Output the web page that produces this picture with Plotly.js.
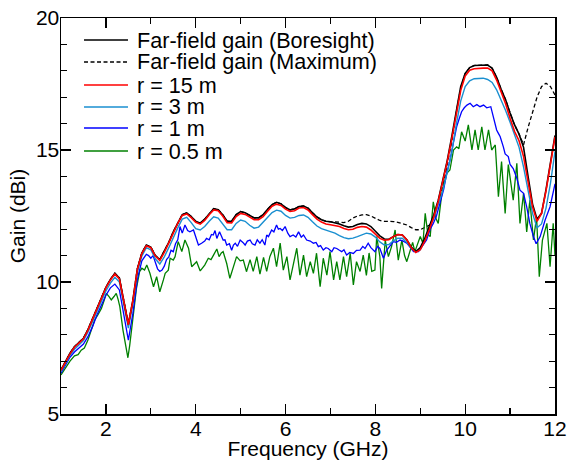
<!DOCTYPE html>
<html>
<head>
<meta charset="utf-8">
<script src="https://cdn.plot.ly/plotly-3.0.1.min.js"></script>
<style>html,body{margin:0;padding:0;background:#fff;}#chart{width:568px;height:460px;}</style>
</head>
<body>
<div id="chart"></div>
<script>
// Frequency grid (GHz) for the smooth curves
const freq = [1.0,1.1,1.2,1.3,1.4,1.5,1.6,1.7,1.8,1.9,
  2.0,2.1,2.2,2.3,2.4,2.5,2.6,2.7,2.8,2.9,
  3.0,3.1,3.2,3.3,3.4,3.5,3.6,3.7,3.8,3.9,
  4.0,4.1,4.2,4.3,4.4,4.5,4.6,4.7,4.8,4.9,
  5.0,5.1,5.2,5.3,5.4,5.5,5.6,5.7,5.8,5.9,
  6.0,6.1,6.2,6.3,6.4,6.5,6.6,6.7,6.8,6.9,
  7.0,7.1,7.2,7.3,7.4,7.5,7.6,7.7,7.8,7.9,
  8.0,8.1,8.2,8.3,8.4,8.5,8.6,8.7,8.8,8.9,
  9.0,9.1,9.2,9.3,9.4,9.5,9.6,9.7,9.8,9.9,
  10.0,10.1,10.2,10.3,10.4,10.5,10.6,10.7,10.8,10.9,
  11.0,11.1,11.2,11.3,11.4,11.5,11.6,11.7,11.8,11.9,
  12.0];

const farBoresight = [6.67,7.0,7.3,7.55,7.72,7.87,8.2,8.6,9.05,9.45,
  9.8,10.1,10.33,10.15,9.25,8.4,9.3,10.5,11.1,11.4,
  11.32,11.0,10.85,11.15,11.5,11.9,12.25,12.55,12.62,12.48,
  12.3,12.23,12.38,12.6,12.78,12.74,12.55,12.3,12.3,12.55,
  12.67,12.62,12.52,12.43,12.43,12.55,12.75,12.93,13.02,12.96,
  12.82,12.73,12.77,12.86,12.88,12.8,12.62,12.46,12.36,12.3,
  12.28,12.25,12.2,12.13,12.08,12.1,12.18,12.22,12.2,12.1,
  11.92,11.75,11.63,11.62,11.72,11.8,11.78,11.6,11.32,11.15,
  11.3,11.65,12.1,12.55,13.1,13.8,14.6,15.5,16.5,17.4,
  17.9,18.12,18.2,18.2,18.22,18.22,18.1,17.75,17.3,16.9,
  16.4,15.95,15.6,15.1,14.0,12.95,12.38,12.6,13.5,14.5,
  15.55];

const farMaximum = [6.67,7.0,7.3,7.55,7.72,7.87,8.2,8.6,9.05,9.45,
  9.8,10.1,10.33,10.15,9.25,8.4,9.3,10.5,11.1,11.4,
  11.32,11.0,10.85,11.15,11.5,11.9,12.25,12.55,12.62,12.48,
  12.3,12.23,12.38,12.6,12.78,12.74,12.55,12.3,12.3,12.55,
  12.67,12.62,12.52,12.43,12.43,12.55,12.75,12.93,13.02,12.96,
  12.82,12.73,12.77,12.86,12.88,12.8,12.62,12.46,12.36,12.3,
  12.28,12.28,12.27,12.25,12.3,12.42,12.5,12.54,12.55,12.5,
  12.4,12.33,12.3,12.3,12.29,12.26,12.22,12.16,12.06,11.98,
  11.98,12.05,12.15,12.45,12.95,13.6,14.4,15.3,16.4,17.35,
  17.9,18.12,18.2,18.2,18.22,18.22,18.1,17.75,17.3,16.9,
  16.4,15.95,15.6,15.2,15.85,16.45,17.0,17.4,17.53,17.4,
  17.08];

const r15 = [6.65,6.98,7.28,7.53,7.7,7.85,8.18,8.58,9.03,9.43,
  9.78,10.08,10.3,10.12,9.22,8.38,9.28,10.48,11.08,11.37,
  11.3,10.98,10.82,11.12,11.48,11.87,12.22,12.52,12.58,12.44,
  12.26,12.19,12.33,12.55,12.73,12.7,12.5,12.25,12.24,12.48,
  12.6,12.56,12.45,12.36,12.36,12.48,12.68,12.87,12.95,12.9,
  12.76,12.67,12.7,12.8,12.82,12.73,12.55,12.38,12.27,12.2,
  12.17,12.14,12.1,12.03,11.98,12.0,12.07,12.1,12.08,11.97,
  11.8,11.65,11.58,11.6,11.72,11.8,11.78,11.6,11.3,11.12,
  11.22,11.55,11.98,12.45,13.05,13.75,14.55,15.4,16.4,17.25,
  17.8,18.02,18.08,18.1,18.1,18.1,18.0,17.65,17.2,16.75,
  16.2,15.7,15.35,14.75,13.8,12.85,12.3,12.6,13.45,14.4,
  15.5];

const r3 = [6.6,6.92,7.22,7.45,7.62,7.78,8.1,8.5,8.93,9.32,
  9.66,9.96,10.18,10.0,9.1,8.25,9.15,10.35,10.98,11.3,
  11.22,10.88,10.68,10.95,11.3,11.7,12.05,12.38,12.45,12.25,
  12.02,11.97,12.1,12.3,12.47,12.42,12.22,11.98,11.98,12.22,
  12.35,12.3,12.15,12.04,12.08,12.25,12.45,12.63,12.72,12.68,
  12.52,12.42,12.45,12.52,12.54,12.45,12.28,12.12,12.02,11.97,
  11.92,11.85,11.76,11.68,11.64,11.66,11.72,11.8,11.85,11.82,
  11.7,11.52,11.4,11.42,11.56,11.66,11.66,11.5,11.28,11.15,
  11.22,11.6,12.05,12.4,12.95,13.45,14.15,14.9,15.95,16.85,
  17.4,17.62,17.7,17.72,17.72,17.67,17.56,17.28,16.9,16.5,
  16.05,15.55,15.1,14.35,13.45,12.6,12.05,12.2,12.8,13.75,
  14.95];

// r = 1 m (read point by point)
const r1Freq = [1.0,1.1,1.2,1.3,1.4,1.5,1.6,1.7,1.8,1.9,2.0,2.1,2.2,2.3,2.4,2.5,2.6,2.7,2.8,2.9,
  2.95,3.0,3.05,3.1,3.15,3.2,3.25,3.3,3.35,3.4,3.45,3.5,3.55,3.6,3.65,3.7,3.76,3.82,3.87,3.95,
  4.0,4.06,4.13,4.2,4.24,4.3,4.35,4.39,4.43,4.47,4.53,4.57,4.61,4.65,4.69,4.75,4.8,4.84,4.88,4.93,
  4.99,5.05,5.1,5.15,5.21,5.26,5.32,5.37,5.43,5.48,5.54,5.58,5.62,5.69,5.74,5.8,5.84,5.88,5.93,5.99,
  6.05,6.1,6.17,6.23,6.29,6.35,6.4,6.47,6.55,6.62,6.68,6.73,6.78,6.84,6.9,6.95,7.03,7.08,7.14,7.2,
  7.25,7.3,7.36,7.43,7.51,7.58,7.66,7.72,7.77,7.84,7.9,7.99,8.05,8.1,8.18,8.25,8.32,8.4,8.47,8.55,
  8.62,8.7,8.78,8.85,8.96,9.05,9.14,9.22,9.29,9.36,9.44,9.52,9.59,9.66,9.74,9.81,9.87,9.92,9.98,10.04,
  10.11,10.18,10.26,10.33,10.41,10.48,10.57,10.63,10.7,10.74,10.78,10.85,10.89,10.96,11.0,11.07,11.15,11.22,11.3,11.37,
  11.44,11.52,11.58,11.67,11.78,11.89,12.0];
const r1 = [6.55,6.88,7.15,7.35,7.5,7.65,7.93,8.3,8.75,9.15,9.5,9.78,9.92,9.7,8.8,7.8,8.8,10.1,10.8,11.05,
  11.0,10.9,11.0,10.7,10.5,10.4,10.45,10.6,10.85,10.95,11.2,11.15,11.45,11.6,12.1,11.85,12.16,11.95,11.9,11.97,
  11.7,11.4,11.47,11.55,11.65,11.6,11.8,11.78,11.95,11.65,11.9,11.75,11.59,11.6,11.4,11.45,11.2,11.4,11.47,11.35,
  11.59,11.5,11.4,11.55,11.59,11.45,11.4,11.6,11.47,11.6,11.4,11.78,11.72,11.97,11.9,12.16,12.0,12.03,11.95,12.1,
  11.85,11.72,11.78,11.7,11.9,11.7,11.78,11.59,11.55,11.47,11.5,11.34,11.38,11.21,11.3,11.27,11.15,11.3,11.27,11.2,
  11.15,11.22,11.02,11.12,11.08,11.2,11.21,11.35,11.27,11.47,11.3,11.15,11.35,11.27,10.9,11.2,11.35,11.53,11.5,11.59,
  11.55,11.47,11.3,11.15,11.15,11.35,11.59,12.0,12.22,12.5,13.05,13.5,14.12,14.6,15.3,15.88,16.2,16.45,16.6,16.7,
  16.77,16.64,16.72,16.64,16.7,16.6,16.64,16.26,15.76,15.63,15.5,15.12,14.85,14.75,14.45,14.3,13.93,13.48,13.36,12.85,
  12.22,11.72,11.45,11.72,12.35,12.85,13.72];

// r = 0.5 m (read point by point)
const r05Freq = [1.0,1.1,1.2,1.3,1.38,1.45,1.52,1.6,1.68,1.75,1.82,1.9,1.96,2.01,2.07,2.12,2.18,2.23,2.27,2.31,
  2.38,2.44,2.49,2.53,2.57,2.62,2.68,2.75,2.8,2.86,2.91,2.98,3.06,3.13,3.2,3.28,3.32,3.39,3.43,3.5,
  3.54,3.61,3.69,3.76,3.84,3.91,3.95,4.02,4.1,4.2,4.28,4.34,4.39,4.47,4.52,4.57,4.61,4.69,4.76,4.84,
  4.91,4.99,5.06,5.13,5.21,5.28,5.36,5.43,5.51,5.58,5.65,5.73,5.8,5.88,5.95,6.03,6.1,6.17,6.25,6.32,
  6.4,6.47,6.55,6.62,6.69,6.77,6.84,6.92,6.99,7.07,7.14,7.21,7.29,7.36,7.44,7.51,7.58,7.66,7.73,7.8,
  7.86,7.92,7.99,8.03,8.1,8.14,8.22,8.29,8.36,8.44,8.51,8.59,8.65,8.7,8.77,8.83,8.88,8.94,9.0,9.06,
  9.11,9.17,9.22,9.29,9.35,9.4,9.48,9.54,9.59,9.66,9.74,9.81,9.86,9.92,10.0,10.07,10.15,10.22,10.29,10.37,
  10.44,10.52,10.59,10.67,10.74,10.81,10.89,10.96,11.02,11.07,11.15,11.22,11.3,11.37,11.44,11.52,11.59,11.65,11.72,11.82,
  11.89,11.96,12.0];
const r05 = [6.48,6.75,7.0,7.2,7.25,7.42,7.5,7.8,8.2,8.56,8.75,9.0,9.3,9.57,9.45,9.32,9.45,9.57,9.35,9.07,
  8.18,7.6,7.13,7.6,8.18,9.0,9.76,10.39,10.52,10.45,10.64,10.33,9.82,10.2,9.63,10.08,10.33,10.45,10.9,10.83,
  10.96,11.53,11.15,11.59,11.28,10.58,10.64,10.77,10.42,10.64,10.9,10.85,11.0,11.25,10.96,11.1,11.15,10.7,10.14,10.58,
  10.96,10.8,10.83,10.39,10.85,10.4,10.96,10.3,10.93,10.4,10.96,11.28,10.58,11.47,10.45,10.96,10.08,10.64,11.28,10.26,
  11.02,10.2,10.77,10.33,11.09,9.82,10.9,10.26,11.15,10.08,10.77,10.08,10.96,10.2,11.09,9.89,10.77,10.4,11.02,10.25,
  11.1,10.4,10.45,11.72,10.96,9.76,11.59,10.96,11.34,11.97,10.83,11.59,11.0,10.77,11.21,11.5,11.15,11.4,11.72,11.47,
  12.6,11.8,11.72,13.04,12.4,12.22,13.36,13.8,14.12,14.24,15.0,15.12,15.05,15.69,15.34,15.95,15.0,15.76,15.0,15.88,
  15.0,15.76,15.0,15.19,13.23,14.56,12.6,14.45,13.6,13.1,14.5,12.22,13.36,11.9,13.1,11.59,12.47,10.2,11.59,12.22,
  10.58,12.22,11.0];

const seriesNames = ['Far-field gain (Boresight)','Far-field gain (Maximum)','r = 15 m','r = 3 m','r = 1 m','r = 0.5 m'];
const seriesColors = ['#000000','#000000','#ff0000','#1a8fd0','#0000ff','#008000'];
const xTicks = [2,4,6,8,10,12];
const xMinorTicks = [1,3,5,7,9,11];
const yTicks = [5,10,15,20];
const yMinorTicks = [6,7,8,9,11,12,13,14,16,17,18,19];

const traces = [
  {x: freq, y: farMaximum, name: seriesNames[1], line: {color: seriesColors[1], width: 1.3, dash: '4px,2.5px'}},
  {x: r05Freq, y: r05, name: seriesNames[5], line: {color: seriesColors[5], width: 1.3}},
  {x: r1Freq, y: r1, name: seriesNames[4], line: {color: seriesColors[4], width: 1.3}},
  {x: freq, y: r3, name: seriesNames[3], line: {color: seriesColors[3], width: 1.4}},
  {x: freq, y: farBoresight, name: seriesNames[0], line: {color: seriesColors[0], width: 1.6}},
  {x: freq, y: r15, name: seriesNames[2], line: {color: seriesColors[2], width: 1.6}}
].map(t => Object.assign({type: 'scatter', mode: 'lines', hoverinfo: 'skip'}, t));

// legend drawn in the top-left corner of the plot
const legendRowsY = [0.9444, 0.8889, 0.8308, 0.7753, 0.7222, 0.6641];
const legendDash = ['solid','4px,2.5px','solid','solid','solid','solid'];
const shapes = seriesNames.map((n, i) => ({
  type: 'line', xref: 'paper', yref: 'paper',
  x0: 0.0466, x1: 0.1356, y0: legendRowsY[i], y1: legendRowsY[i],
  line: {color: seriesColors[i], width: 1.5, dash: legendDash[i]}
}));
const annotations = seriesNames.map((n, i) => ({
  xref: 'paper', yref: 'paper', x: 0.1498, y: legendRowsY[i],
  xanchor: 'left', yanchor: 'middle', text: n, showarrow: false,
  font: {size: 21.6, color: '#000'}
}));

const axisCommon = {
  showgrid: false, zeroline: false, showline: true, linecolor: '#000', linewidth: 1.5,
  mirror: 'allticks', ticks: 'inside', ticklen: 10, tickwidth: 1.3, tickcolor: '#000',
  tickfont: {size: 21, color: '#000'}
};

const layout = {
  width: 568, height: 460,
  margin: {l: 61, r: 13, t: 18, b: 46},
  paper_bgcolor: '#fff', plot_bgcolor: '#fff',
  font: {family: 'Arial, "Liberation Sans", sans-serif', color: '#000'},
  showlegend: false,
  xaxis: Object.assign({}, axisCommon, {
    range: [1, 12], tickmode: 'array', tickvals: xTicks, ticktext: xTicks.map(String),
    ticklabelstandoff: -5,
    minor: {tickmode: 'array', tickvals: xMinorTicks, ticks: 'inside', ticklen: 6, tickwidth: 1.3, tickcolor: '#000'},
    title: {text: 'Frequency (GHz)', font: {size: 21}, standoff: 6}
  }),
  yaxis: Object.assign({}, axisCommon, {
    range: [5, 20], tickmode: 'array', tickvals: yTicks, ticktext: yTicks.map(String),
    ticklabelstandoff: -4,
    minor: {tickmode: 'array', tickvals: yMinorTicks, ticks: 'inside', ticklen: 6, tickwidth: 1.3, tickcolor: '#000'},
    title: {text: 'Gain (dBi)', font: {size: 21}, standoff: 4}
  }),
  shapes: shapes,
  annotations: annotations
};

Plotly.newPlot('chart', traces, layout, {staticPlot: true, displayModeBar: false});
</script>
</body>
</html>
